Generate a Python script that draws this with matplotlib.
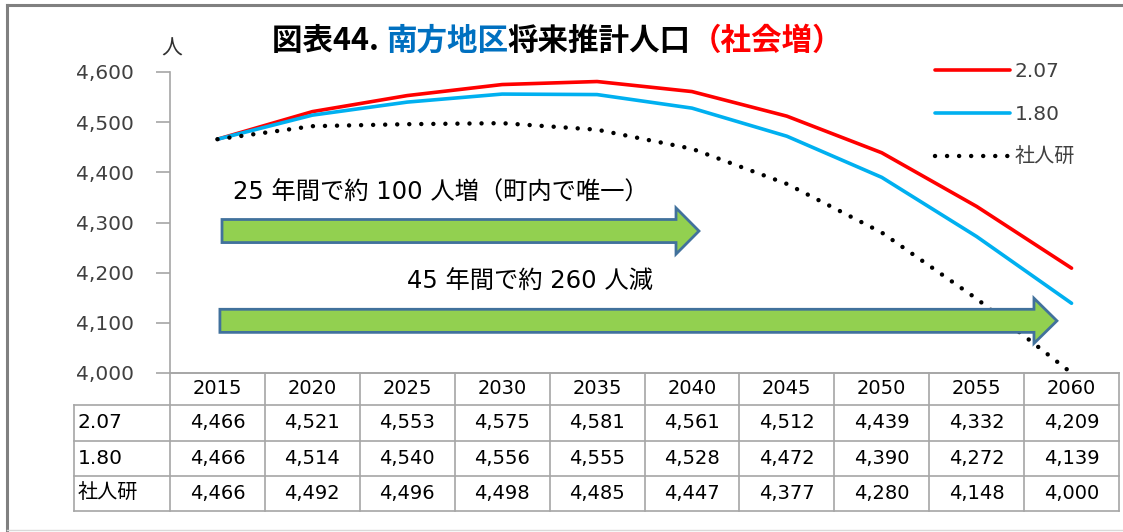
import matplotlib
matplotlib.use("Agg")
import matplotlib.pyplot as plt
from matplotlib.patches import FancyArrow
from matplotlib.lines import Line2D

# ---------------- data ----------------
years = [2015, 2020, 2025, 2030, 2035, 2040, 2045, 2050, 2055, 2060]
series_names = ["2.07", "1.80", "社人研"]
s_207 = [4466, 4521, 4553, 4575, 4581, 4561, 4512, 4439, 4332, 4209]
s_180 = [4466, 4514, 4540, 4556, 4555, 4528, 4472, 4390, 4272, 4139]
s_ipss = [4466, 4492, 4496, 4498, 4485, 4447, 4377, 4280, 4148, 4000]
y_ticks = [4000, 4100, 4200, 4300, 4400, 4500, 4600]
title_parts = [("図表44. ", "#000000"), ("南方地区", "#0070C0"),
               ("将来推計人口", "#000000"), ("（社会増）", "#FF0000")]
unit_label = "人"
note_up = "25 年間で約 100 人増（町内で唯一）"
note_down = "45 年間で約 260 人減"

# ---------------- layout ----------------
W, H = 1123, 532
CJK = ["Noto Sans CJK JP", "DejaVu Sans"]
LAT = ["DejaVu Sans", "Noto Sans CJK JP"]
plt.rcParams["font.family"] = CJK

fig = plt.figure(figsize=(W / 100, H / 100), dpi=100)
fig.patch.set_facecolor("white")


def rect(x0, y0, x1, y1):
    return [x0 / W, 1 - y1 / H, (x1 - x0) / W, (y1 - y0) / H]


def fx(x):
    return x / W


def fy(y):
    return 1 - y / H


# outer frame
fig.add_artist(Line2D([fx(7), 1], [fy(5), fy(5)], color="#808080", lw=2.2))
fig.add_artist(Line2D([fx(7), fx(7)], [fy(5), 0], color="#808080", lw=2.2))
fig.add_artist(Line2D([fx(7), 1], [fy(530), fy(530)], color="#D9D9D9", lw=1))

ax = fig.add_axes(rect(170, 72, 1119, 373))
ax.set_xlim(2012.5, 2062.5)
ax.set_ylim(4000, 4600)
for s in ["top", "right"]:
    ax.spines[s].set_visible(False)
ax.spines["left"].set_color("#A6A6A6")
ax.spines["bottom"].set_color("#A6A6A6")
ax.spines["left"].set_linewidth(1.2)
ax.spines["bottom"].set_linewidth(1.2)
ax.set_xticks([])
ax.set_yticks(y_ticks)
ax.set_yticklabels([f"{v:,}" for v in y_ticks], fontfamily="DejaVu Sans")
ax.tick_params(axis="y", direction="out", length=10, width=1.2, color="#A6A6A6",
               labelcolor="#404040", labelsize=14.5, pad=16)

ax.plot(years, s_207, color="#FF0000", lw=2.6, solid_capstyle="round",
        label=series_names[0], zorder=3)
ax.plot(years, s_180, color="#00B0F0", lw=2.6, solid_capstyle="round",
        label=series_names[1], zorder=3)
ax.plot(years, s_ipss, color="#000000", lw=3.2, linestyle=(0, (0.01, 2.7)),
        dash_capstyle="round", label=series_names[2], zorder=3, clip_on=False)

# arrows (data coordinates)
a1 = FancyArrow(2015.24, 4283, 2040.37 - 2015.24, 0, width=46, head_width=92,
                head_length=1.21, length_includes_head=True,
                facecolor="#92D050", edgecolor="#41719C", lw=2, zorder=4)
a2 = FancyArrow(2015.13, 4104, 2059.23 - 2015.13, 0, width=46, head_width=90,
                head_length=1.21, length_includes_head=True,
                facecolor="#92D050", edgecolor="#41719C", lw=2, zorder=4)
ax.add_patch(a1)
ax.add_patch(a2)

fig.text(fx(233), fy(193), note_up, fontsize=17.5, color="#000000",
         va="center", ha="left", family=LAT)
fig.text(fx(407), fy(281), note_down, fontsize=17.5, color="#000000",
         va="center", ha="left", family=LAT)

# unit label
fig.text(fx(172), fy(49), unit_label, fontsize=15, color="#303030",
         va="center", ha="center", family=CJK)

# legend
leg = ax.legend(loc="upper left", bbox_to_anchor=(fx(935), fy(62)),
                bbox_transform=fig.transFigure, frameon=False,
                borderpad=0, borderaxespad=0, handlelength=3.7,
                handletextpad=0.25, labelspacing=1.2,
                prop={"family": LAT, "size": 14.5})
for t in leg.get_texts():
    t.set_color("#404040")

# title
renderer = fig.canvas.get_renderer()
x_cur = 272
for txt, col in title_parts:
    t = fig.text(fx(x_cur), fy(41), txt, fontsize=22, fontweight="bold",
                 color=col, va="center", ha="left", family=CJK)
    bb = t.get_window_extent(renderer=renderer)
    x_cur += bb.width

# ---------------- table ----------------
tab = fig.add_axes(rect(170, 373, 1119, 511))
tab.set_xlim(2012.5, 2062.5)
tab.set_ylim(511, 373)
tab.axis("off")
grid_c = "#A6A6A6"
lbl_left = 2012.5 - 96 / 18.98
row_edges = [373, 405, 441, 476, 511]
for i, yv in enumerate(row_edges):
    x0 = 2012.5 if i == 0 else lbl_left
    tab.plot([x0, 2062.5], [yv, yv], color=grid_c, lw=1.2, clip_on=False)
col_edges = [2012.5 + 5 * k for k in range(11)]
for xv in col_edges:
    tab.plot([xv, xv], [373, 511], color=grid_c, lw=1.2, clip_on=False)
tab.plot([lbl_left, lbl_left], [405, 511], color=grid_c, lw=1.2, clip_on=False)

for yr in years:
    tab.text(yr, (row_edges[0] + row_edges[1]) / 2, str(yr), ha="center",
             va="center", fontsize=14, color="#000000", family="DejaVu Sans")
for r, (name, vals) in enumerate(zip(series_names, [s_207, s_180, s_ipss])):
    yc = (row_edges[r + 1] + row_edges[r + 2]) / 2
    tab.text(lbl_left + 0.2, yc, name, ha="left", va="center", fontsize=14.5,
             color="#000000", family=LAT, clip_on=False)
    for yr, v in zip(years, vals):
        tab.text(yr, yc, f"{v:,}", ha="center", va="center", fontsize=14,
                 color="#000000", family="DejaVu Sans")

fig.savefig("out.png", dpi=100, facecolor="white")
